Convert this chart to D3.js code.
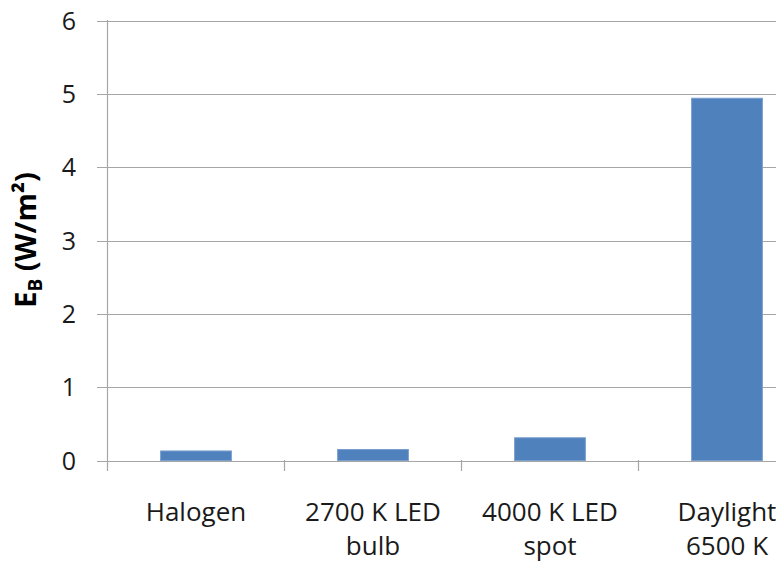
<!DOCTYPE html>
<html><head><meta charset="utf-8">
<script src="https://cdn.jsdelivr.net/npm/d3@7"></script>
<style>body{margin:0;background:#fff}svg{display:block}text{font-family:"Open Sans",sans-serif}</style>
</head><body>
<svg id="c" width="776" height="564"></svg>
<script>
const categories = [["Halogen"], ["2700 K LED", "bulb"], ["4000 K LED", "spot"], ["Daylight", "6500 K"]];
const values = [0.13, 0.15, 0.31, 4.94];
const yTicks = [0, 1, 2, 3, 4, 5, 6];

const svg = d3.select("#c");
const x = d3.scaleBand().domain(d3.range(categories.length)).range([107.5, 815.5]).paddingInner(0.6).paddingOuter(0.3);
const y = d3.scaleLinear().domain([0, 6]).range([460.5, 20.5]);
const step = x.step();

// gridlines
svg.append("g").selectAll("line").data(yTicks).join("line")
  .attr("x1", 97).attr("x2", 776).attr("y1", d => Math.round(y(d)) + 0.5).attr("y2", d => Math.round(y(d)) + 0.5)
  .attr("stroke", "#a6a6a6").attr("stroke-width", 1.2);

// y labels
svg.append("g").selectAll("text").data(yTicks).join("text")
  .attr("x", 76).attr("y", d => y(d)).attr("dy", "0.36em").attr("text-anchor", "end")
  .attr("font-size", 25).attr("fill", "#1a1a1a").text(d => d);

// y axis line
svg.append("line").attr("x1", 107.5).attr("x2", 107.5).attr("y1", 20).attr("y2", 471).attr("stroke", "#a6a6a6").attr("stroke-width", 1.2);

// category ticks (band boundaries)
svg.append("g").selectAll("line").data(d3.range(1, categories.length + 1)).join("line")
  .attr("x1", i => x.range()[0] + i * step).attr("x2", i => x.range()[0] + i * step)
  .attr("y1", 460).attr("y2", 471).attr("stroke", "#a6a6a6").attr("stroke-width", 1.2);

// bars
svg.append("g").selectAll("rect").data(values).join("rect")
  .attr("x", (d, i) => x(i)).attr("width", x.bandwidth())
  .attr("y", d => y(d)).attr("height", d => y(0) - y(d))
  .attr("fill", "#4f81bd").attr("stroke", "#7a9fcf").attr("stroke-width", 1);

// category labels
const lab = svg.append("g").selectAll("text").data(categories).join("text")
  .attr("text-anchor", "middle").attr("font-size", 26).attr("fill", "#1a1a1a");
lab.each(function(lines, i) {
  const t = d3.select(this);
  lines.forEach((l, k) => t.append("tspan").attr("x", x(i) + x.bandwidth() / 2).attr("y", 521 + k * 34).text(l));
});

// y title
const yt = svg.append("text").attr("transform", "translate(36,240) rotate(-90)")
  .attr("text-anchor", "middle").attr("font-size", 29).attr("font-weight", "bold").attr("fill", "#000");
yt.append("tspan").text("E");
yt.append("tspan").attr("font-size", 19).attr("dy", 6).text("B");
yt.append("tspan").attr("dy", -6).text(" (W/m²)");
</script>
</body></html>
